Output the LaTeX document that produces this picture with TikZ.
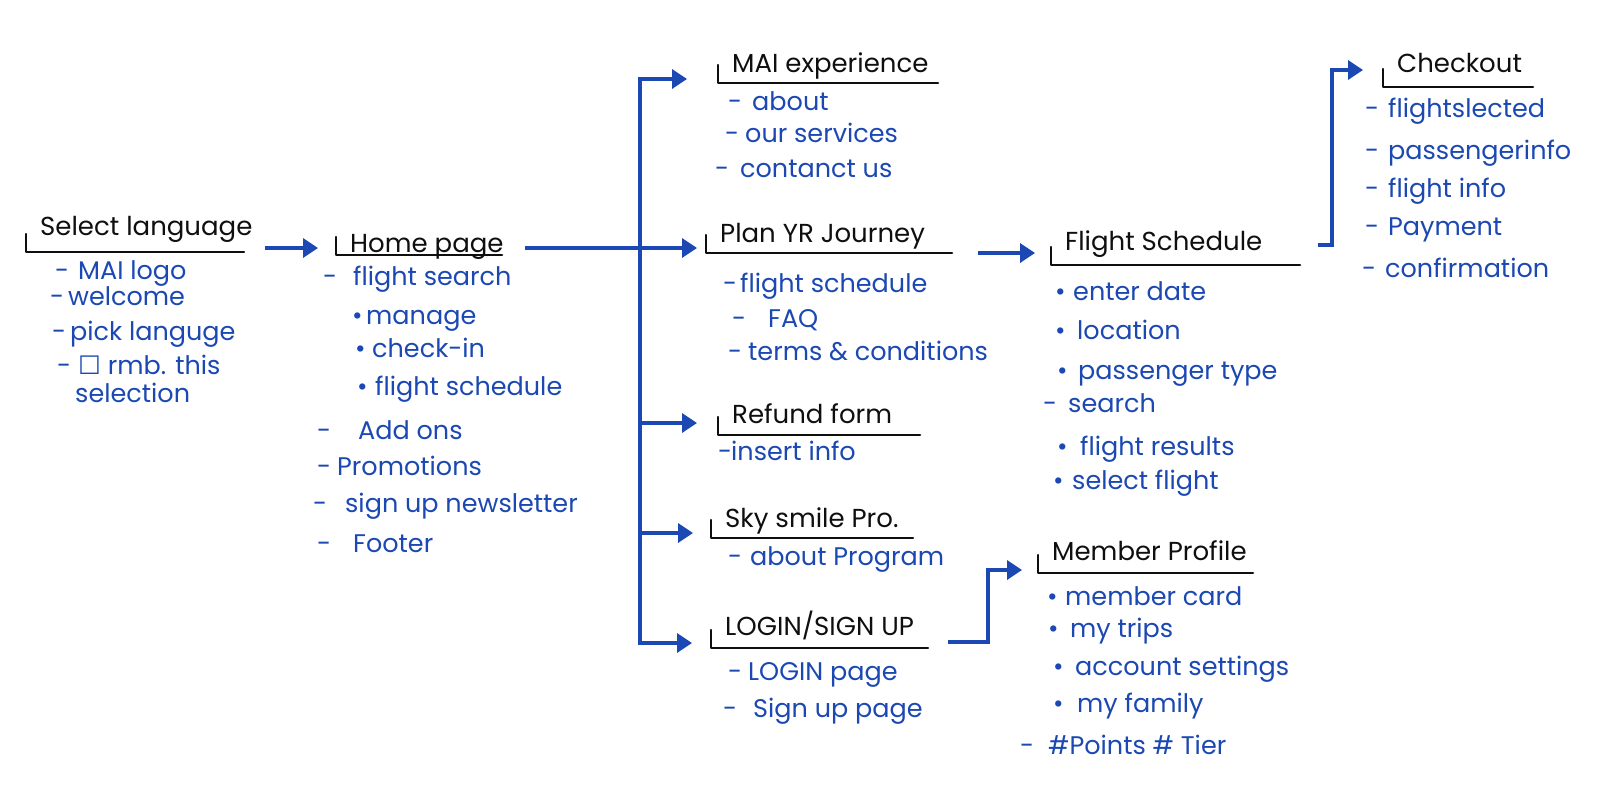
\documentclass[tikz,border=0pt]{standalone}
\usepackage{fontspec}
\setmainfont{Poppins}
\newfontfamily\boxfont{DejaVu Sans}
\usetikzlibrary{arrows.meta,calc}
\definecolor{penblue}{RGB}{27,72,178}
\definecolor{penblack}{RGB}{15,15,15}
\newcommand{\tickbox}{{\boxfont ☐}}
\tikzset{
  head/.style={anchor=base west, inner sep=0pt, text=penblack, font=\fontsize{26}{30}\selectfont},
  item/.style={anchor=mid west, inner sep=0pt, text=penblue, font=\fontsize{25.5}{30}\selectfont},
  uline/.style={penblack, line width=2.5pt, line cap=round, line join=round},
  link/.style={penblue, line width=3.5pt, -{Triangle[length=15pt,width=19pt]}}
}
% bracket under a heading: node, drop below baseline, length
\newcommand{\headline}[3]{%
  \draw[uline] ($(#1.base west)+(-14,#2-18)$) -- ($(#1.base west)+(-14,#2)$) -- ($(#1.base west)+(#3,#2)$);}
\begin{document}
\begin{tikzpicture}[x=1pt, y=-1pt]
  \useasboundingbox[fill=white] (0,0) rectangle (1611,798);

  % Headings
  \node[head] (sel) at (40,235) {Select language};
  \node[head] (home) at (350,252) {Home page};
  \node[head] (mai) at (732,72) {MAI experience};
  \node[head] (plan) at (720,242) {Plan YR Journey};
  \node[head] (refund) at (732,423) {Refund form};
  \node[head] (sky) at (725,527) {Sky smile Pro.};
  \node[head] (login) at (725,635) {LOGIN/SIGN UP};
  \node[head] (fs) at (1065,250) {Flight Schedule};
  \node[head] (member) at (1052,560) {Member Profile};
  \node[head] (checkout) at (1397,72) {Checkout};

  \headline{sel}{17}{204}
  \headline{home}{3}{152}
  \headline{mai}{11}{206}
  \headline{plan}{11}{232}
  \headline{refund}{12}{188}
  \headline{sky}{11}{188}
  \headline{login}{13}{203}
  \headline{fs}{15}{235}
  \headline{member}{13}{201}
  \headline{checkout}{15}{136}

  % Items: mark x / gap to text / y / mark / text
  \foreach \mx/\g/\y/\m/\t [count=\i] in {55/23/277/-/MAI logo, 50/18/303/-/welcome,
      52/18/338/-/pick languge, 57/21/372/-/\tickbox{} rmb. this, 75/0/400//selection}
    \node[item] (sel-\i) at (\mx,\y) {\makebox[\g pt][l]{\m}\t};
  \foreach \mx/\g/\y/\m/\t [count=\i] in {323/30/283/-/flight search, 352/14/322/\textbullet/manage,
      355/17/355/\textbullet/check-in, 357/18/393/\textbullet/flight schedule, 317/41/437/-/Add ons,
      317/20/473/-/Promotions, 313/32/510/-/sign up newsletter, 317/36/550/-/Footer}
    \node[item] (home-\i) at (\mx,\y) {\makebox[\g pt][l]{\m}\t};
  \foreach \mx/\g/\y/\m/\t [count=\i] in {728/24/108/-/about, 725/20/140/-/our services,
      715/25/175/-/contanct us}
    \node[item] (mai-\i) at (\mx,\y) {\makebox[\g pt][l]{\m}\t};
  \foreach \mx/\g/\y/\m/\t [count=\i] in {723/17/290/-/flight schedule, 732/36/325/-/FAQ,
      728/20/358/-/terms \& conditions}
    \node[item] (plan-\i) at (\mx,\y) {\makebox[\g pt][l]{\m}\t};
  \node[item] (refund-1) at (718,458) {\makebox[13pt][l]{-}insert info};
  \node[item] (sky-1) at (728,563) {\makebox[22pt][l]{-}about Program};
  \foreach \mx/\g/\y/\m/\t [count=\i] in {728/20/678/-/LOGIN page, 723/30/715/-/Sign up page}
    \node[item] (login-\i) at (\mx,\y) {\makebox[\g pt][l]{\m}\t};
  \foreach \mx/\g/\y/\m/\t [count=\i] in {1055/18/298/\textbullet/enter date, 1055/22/337/\textbullet/location,
      1057/21/377/\textbullet/passenger type, 1043/25/410/-/search,
      1057/23/453/\textbullet/flight results, 1053/19/487/\textbullet/select flight}
    \node[item] (fs-\i) at (\mx,\y) {\makebox[\g pt][l]{\m}\t};
  \foreach \mx/\g/\y/\m/\t [count=\i] in {1047/18/603/\textbullet/member card, 1048/22/635/\textbullet/my trips,
      1053/22/673/\textbullet/account settings, 1053/24/710/\textbullet/my family,
      1020/28/752/-/\#Points \# Tier}
    \node[item] (member-\i) at (\mx,\y) {\makebox[\g pt][l]{\m}\t};
  \foreach \mx/\g/\y/\m/\t [count=\i] in {1365/23/115/-/flightslected, 1365/23/157/-/passengerinfo,
      1365/23/195/-/flight info, 1365/23/233/-/Payment, 1362/23/275/-/confirmation}
    \node[item] (checkout-\i) at (\mx,\y) {\makebox[\g pt][l]{\m}\t};

  % Connectors
  \coordinate (hub) at (640,248);
  \draw[link] ($(sel.base west)+(225,13)$) -- ($(home.base west)+(-32,-4)$);
  \draw[link] ($(home.base west)+(175,-4)$) -- ($(plan.base west)+(-23,6)$);
  \draw[link] (hub) |- ($(mai.base west)+(-45,7)$);
  \draw[link] (hub) |- ($(refund.base west)+(-35,0)$);
  \draw[link] (hub) |- ($(sky.base west)+(-32,6)$);
  \draw[link] (hub) |- ($(login.base west)+(-33,8)$);
  \draw[link] ($(plan.base west)+(258,11)$) -- ($(fs.base west)+(-30,3)$);
  \draw[link] ($(login.base west)+(223,7)$) -- ++(40,0) |- ($(member.base west)+(-30,10)$);
  \draw[link] ($(fs.base west)+(253,-5)$) -- ++(14,0) |- ($(checkout.base west)+(-34,-2)$);
\end{tikzpicture}
\end{document}
